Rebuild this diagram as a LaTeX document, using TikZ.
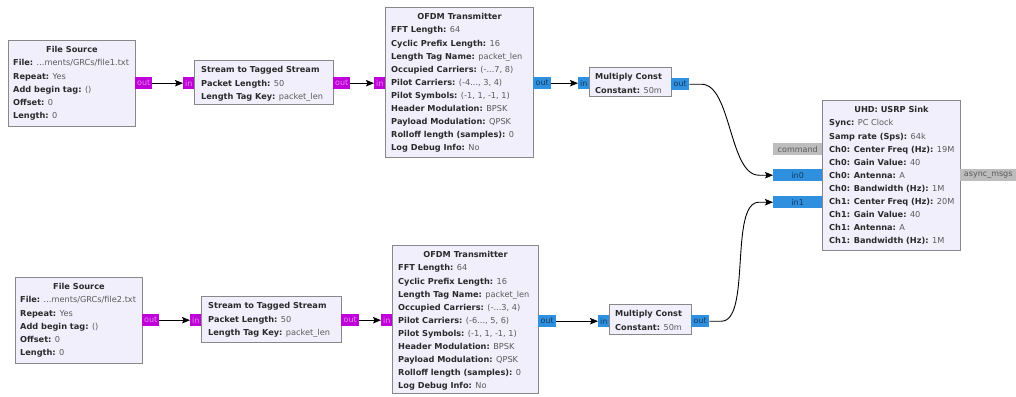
\documentclass[tikz,border=0pt]{standalone}
\usepackage{fontspec}
\setmainfont{DejaVu Sans}
\usetikzlibrary{arrows.meta,calc}
\definecolor{blkfill}{HTML}{F1EFFB}
\definecolor{blkdraw}{HTML}{888888}
\definecolor{bytec}{HTML}{C000D8}
\definecolor{floatc}{HTML}{3090E0}
\definecolor{msgc}{HTML}{BDBDBD}
\definecolor{keyc}{HTML}{2A2A2A}
\definecolor{valc}{HTML}{5A5A5A}
\newcommand\kv[2]{{\bfseries #1:} {\color{valc}#2}}
\tikzset{
  blk/.style={draw=blkdraw, fill=blkfill, line width=0.9pt, anchor=north west, inner sep=0pt},
  prt/.style={anchor=north west, inner sep=0pt, minimum height=12pt, font=\fontsize{8}{8}\selectfont},
  bport/.style={prt, fill=bytec, text=bytec!45!white},
  fport/.style={prt, fill=floatc, text=floatc!40!black},
  mport/.style={prt, fill=msgc, text=black!65},
  body/.style={anchor=north west, align=left, inner sep=0pt, text=keyc, font=\fontsize{8.2}{13.1}\selectfont},
  ttl/.style={anchor=base, inner sep=0pt, text=keyc, font=\bfseries\fontsize{8.2}{13.1}\selectfont},
  conn/.style={draw=black, line width=0.9pt, -{Stealth[length=8pt,width=6.5pt,inset=1.5pt]}},
}
\begin{document}
\begin{tikzpicture}[x=1pt,y=-1pt]
\useasboundingbox (0,0) rectangle (1016,396);
\fill[white] (0,0) rectangle (1016,396);

% ---------- row 1 ----------
\node[blk, minimum width=127pt, minimum height=86pt] (fs1) at (8,40) {};
\node[ttl] (fs1t) at ($(fs1.north)+(0,12.5)$) {File Source};
\node[body] (fs1b) at ($(fs1.north west)+(5,19.5)$) {\kv{File}{...ments/GRCs/file1.txt}\\ \kv{Repeat}{Yes}\\ \kv{Add begin tag}{()}\\ \kv{Offset}{0}\\ \kv{Length}{0}};
\node[bport, minimum width=17pt] (fs1o) at (135,77) {out};

\node[bport, minimum width=11pt] (sts1i) at (183,77) {in};
\node[blk, minimum width=139pt, minimum height=44pt] (sts1) at (194,60) {};
\node[body] (sts1b) at ($(sts1.north west)+(7,6.5)$) {{\bfseries Stream to Tagged Stream}\\ \kv{Packet Length}{50}\\ \kv{Length Tag Key}{packet\_len}};
\node[bport, minimum width=17pt] (sts1o) at (333,77) {out};

\node[bport, minimum width=11pt] (of1i) at (374,77) {in};
\node[blk, minimum width=148pt, minimum height=150pt] (of1) at (385,7) {};
\node[ttl] (of1t) at ($(of1.north)+(0,12.5)$) {OFDM Transmitter};
\node[body] (of1b) at ($(of1.north west)+(6,19.5)$) {\kv{FFT Length}{64}\\ \kv{Cyclic Prefix Length}{16}\\ \kv{Length Tag Name}{packet\_len}\\ \kv{Occupied Carriers}{(-...7, 8)}\\ \kv{Pilot Carriers}{(-4..., 3, 4)}\\ \kv{Pilot Symbols}{(-1, 1, -1, 1)}\\ \kv{Header Modulation}{BPSK}\\ \kv{Payload Modulation}{QPSK}\\ \kv{Rolloff length (samples)}{0}\\ \kv{Log Debug Info}{No}};
\node[fport, minimum width=18pt] (of1o) at (533,77) {out};

\node[fport, minimum width=11pt] (m1i) at (578,77) {in};
\node[blk, minimum width=82pt, minimum height=29pt] (m1) at (589,67) {};
\node[body] (m1b) at ($(m1.north west)+(6,6.5)$) {{\bfseries Multiply Const}\\ \kv{Constant}{50m}};
\node[fport, minimum width=18pt] (m1o) at (671,78) {out};

% ---------- USRP sink ----------
\node[blk, minimum width=138pt, minimum height=150pt] (usrp) at (822,100) {};
\node[ttl] (usrpt) at ($(usrp.north)+(0,12.5)$) {UHD: USRP Sink};
\node[body] (usrpb) at ($(usrp.north west)+(7,19.5)$) {\kv{Sync}{PC Clock}\\ \kv{Samp rate (Sps)}{64k}\\ \kv{Ch0: Center Freq (Hz)}{19M}\\ \kv{Ch0: Gain Value}{40}\\ \kv{Ch0: Antenna}{A}\\ \kv{Ch0: Bandwidth (Hz)}{1M}\\ \kv{Ch1: Center Freq (Hz)}{20M}\\ \kv{Ch1: Gain Value}{40}\\ \kv{Ch1: Antenna}{A}\\ \kv{Ch1: Bandwidth (Hz)}{1M}};
\node[mport, minimum width=49pt] (cmd) at (773,143) {command};
\node[fport, minimum width=49pt] (in0) at (773,169) {in0};
\node[fport, minimum width=49pt] (in1) at (773,196) {in1};
\node[mport, minimum width=56pt] (async) at (960,169) {async\_msgs};

% ---------- row 2 ----------
\node[blk, minimum width=127pt, minimum height=86pt] (fs2) at (15,277) {};
\node[ttl] (fs2t) at ($(fs2.north)+(0,12.5)$) {File Source};
\node[body] (fs2b) at ($(fs2.north west)+(5,19.5)$) {\kv{File}{...ments/GRCs/file2.txt}\\ \kv{Repeat}{Yes}\\ \kv{Add begin tag}{()}\\ \kv{Offset}{0}\\ \kv{Length}{0}};
\node[bport, minimum width=17pt] (fs2o) at (142,314) {out};

\node[bport, minimum width=11pt] (sts2i) at (190,314) {in};
\node[blk, minimum width=140pt, minimum height=46pt] (sts2) at (201,296) {};
\node[body] (sts2b) at ($(sts2.north west)+(7,6.5)$) {{\bfseries Stream to Tagged Stream}\\ \kv{Packet Length}{50}\\ \kv{Length Tag Key}{packet\_len}};
\node[bport, minimum width=18pt] (sts2o) at (341,314) {out};

\node[bport, minimum width=11pt] (of2i) at (381,314) {in};
\node[blk, minimum width=146pt, minimum height=148pt] (of2) at (392,245) {};
\node[ttl] (of2t) at ($(of2.north)+(0,12.5)$) {OFDM Transmitter};
\node[body] (of2b) at ($(of2.north west)+(6,19.5)$) {\kv{FFT Length}{64}\\ \kv{Cyclic Prefix Length}{16}\\ \kv{Length Tag Name}{packet\_len}\\ \kv{Occupied Carriers}{(-...3, 4)}\\ \kv{Pilot Carriers}{(-6..., 5, 6)}\\ \kv{Pilot Symbols}{(-1, 1, -1, 1)}\\ \kv{Header Modulation}{BPSK}\\ \kv{Payload Modulation}{QPSK}\\ \kv{Rolloff length (samples)}{0}\\ \kv{Log Debug Info}{No}};
\node[fport, minimum width=18pt] (of2o) at (538,315) {out};

\node[fport, minimum width=11pt] (m2i) at (598,315) {in};
\node[blk, minimum width=82pt, minimum height=30pt] (m2) at (609,304) {};
\node[body] (m2b) at ($(m2.north west)+(6,6.5)$) {{\bfseries Multiply Const}\\ \kv{Constant}{50m}};
\node[fport, minimum width=18pt] (m2o) at (691,315) {out};

% ---------- connectors ----------
\draw[conn] (fs1o.east) -- (sts1i.west);
\draw[conn] (sts1o.east) -- (of1i.west);
\draw[conn] (of1o.east) -- (m1i.west);
\draw[conn] (fs2o.east) -- (sts2i.west);
\draw[conn] (sts2o.east) -- (of2i.west);
\draw[conn] (of2o.east) -- (m2i.west);
\coordinate (c1a) at ($(m1o.east)+(12,0)$);
\coordinate (c1b) at ($(in0.west)+(-14,0)$);
\draw[conn] (m1o.east) -- (c1a) .. controls +(30,0) and +(-30,0) .. (c1b) -- (in0.west);
\coordinate (c2a) at ($(m2o.east)+(12,0)$);
\coordinate (c2b) at ($(in1.west)+(-14,0)$);
\draw[conn] (m2o.east) -- (c2a) .. controls +(30,0) and +(-30,0) .. (c2b) -- (in1.west);
\end{tikzpicture}
\end{document}
